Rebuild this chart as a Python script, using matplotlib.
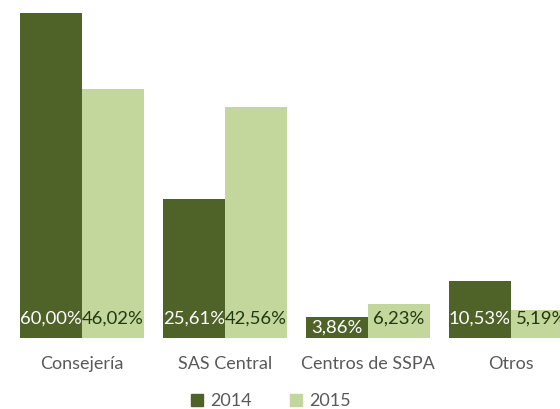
import matplotlib
matplotlib.use("Agg")
import matplotlib.pyplot as plt
import numpy as np
from matplotlib.patches import Patch

categories = ["Consejería", "SAS Central", "Centros de SSPA", "Otros"]
series_names = ["2014", "2015"]
values_2014 = [60.00, 25.61, 3.86, 10.53]
values_2015 = [46.02, 42.56, 6.23, 5.19]

dark = "#4f6228"
light = "#c3d69b"
font = "Lato"

fig = plt.figure(figsize=(5.6, 4.09), dpi=100)
ax = fig.add_axes([10.5 / 560, (409 - 338) / 409, 572 / 560, 338 / 409])

x = np.arange(len(categories))
w = 0.434
b1 = ax.bar(x - w / 2, values_2014, w, color=dark)
b2 = ax.bar(x + w / 2, values_2015, w, color=light)

def fmt(v):
    return f"{v:.2f}%".replace(".", ",")

for bars, vals, col in [(b1, values_2014, "white"), (b2, values_2015, "#22380f")]:
    for rect, v in zip(bars, vals):
        ypos = 3.5 if v > 5 else v / 2
        ax.text(rect.get_x() + rect.get_width() / 2, ypos, fmt(v),
                ha="center", va="center", color=col, fontsize=13.3, family=font)

ax.set_xlim(-0.5, len(categories) - 0.5)
ax.set_ylim(0, 338 / 5.42)
ax.set_xticks(x)
ax.set_xticklabels(categories, fontsize=13, color="#595959", family=font)
ax.tick_params(axis="x", length=0, pad=13)
ax.set_yticks([])
for s in ax.spines.values():
    s.set_visible(False)

handles = [Patch(color=dark, label=series_names[0]), Patch(color=light, label=series_names[1])]
leg = fig.legend(handles=handles, ncol=2, loc="center", bbox_to_anchor=(271 / 560, (409 - 401) / 409),
                 frameon=False, handlelength=0.65, handleheight=0.65, handletextpad=0.4,
                 columnspacing=2.1, prop={"family": font, "size": 13})
for t in leg.get_texts():
    t.set_color("#595959")

fig.savefig("out.png", dpi=100)
